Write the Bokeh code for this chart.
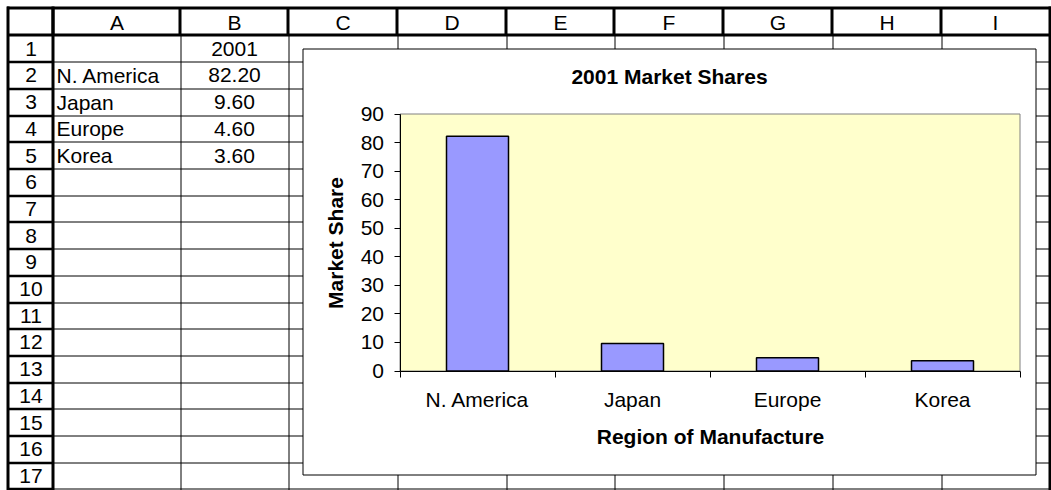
import math
from bokeh.plotting import figure
from bokeh.models import Range1d, LinearAxis, FixedTicker, ColumnDataSource
from bokeh.core.properties import value
from bokeh.embed import file_html
from bokeh.resources import INLINE

# ---------------- data ----------------
YEAR = "2001"
regions = ["N. America", "Japan", "Europe", "Korea"]
shares = [82.20, 9.60, 4.60, 3.60]
y_ticks = [0, 10, 20, 30, 40, 50, 60, 70, 80, 90]
y_max = 90
column_letters = ["A", "B", "C", "D", "E", "F", "G", "H", "I"]
row_numbers = [str(i) for i in range(1, 18)]
chart_title = f"{YEAR} Market Shares"
y_axis_title = "Market Share"
x_axis_title = "Region of Manufacture"

# ---------------- geometry (canvas pixels) ----------------
W, H = 1051, 490

col_edges = [8, 53, 180, 288, 397, 506, 614, 723, 832, 941, 1049]
GRID_TOP = 8
HEAD_BOTTOM = 35
ROW_H = 26.7
row_edges = [HEAD_BOTTOM + ROW_H * k for k in range(len(row_numbers) + 1)]

CB_L, CB_T, CB_R, CB_B = 302.5, 48.5, 1035.5, 474.5      # chart area box
PA_L, PA_R, PA_T, PA_B = 399.5, 1019.5, 113.5, 370.5      # plot area

FONT = "Liberation Sans"
CELL_FS = "21px"
CHART_FS = "21px"
TXT_OFF = 7.5   # text glyph baseline correction


def crisp(v):
    return math.floor(v) + 0.5


p = figure(width=W, height=H,
           x_range=Range1d(0, W), y_range=Range1d(H, 0),
           x_axis_type=None, y_axis_type=None,
           toolbar_location=None, output_backend="svg",
           min_border=0, outline_line_color=None,
           background_fill_color="white", border_fill_color="white")
p.title.visible = False

cat_px = (PA_R - PA_L) / len(regions)
val_px = (PA_B - PA_T) / y_max
p.extra_x_ranges = {"cat": Range1d((0 - PA_L) / cat_px, (W - PA_L) / cat_px)}
p.extra_y_ranges = {"val": Range1d((PA_B - H) / val_px, (PA_B - 0) / val_px)}

# ---------------- spreadsheet grid ----------------
x0, y0, x1, y1 = [], [], [], []
for x in col_edges[2:-1]:
    x0.append(crisp(x)); x1.append(crisp(x)); y0.append(HEAD_BOTTOM); y1.append(H)
for y in row_edges[1:]:
    x0.append(col_edges[1]); x1.append(col_edges[-1]); y0.append(crisp(y)); y1.append(crisp(y))
p.segment(x0=x0, y0=y0, x1=x1, y1=y1, line_color="black", line_width=1)

tx0, ty0, tx1, ty1 = [], [], [], []
for y in (GRID_TOP - 0.5, HEAD_BOTTOM - 0.5):
    tx0.append(col_edges[0] - 1.5); tx1.append(col_edges[-1] + 1.5); ty0.append(y); ty1.append(y)
for x in col_edges[1:-1]:
    tx0.append(x - 0.5); tx1.append(x - 0.5); ty0.append(GRID_TOP); ty1.append(HEAD_BOTTOM)
for x in (col_edges[0] - 0.5, col_edges[1] - 0.5, col_edges[-1] + 0.5):
    tx0.append(x); tx1.append(x); ty0.append(GRID_TOP - 2); ty1.append(H)
p.segment(x0=tx0, y0=ty0, x1=tx1, y1=ty1, line_color="black", line_width=3)

rx0, ry0, rx1, ry1 = [], [], [], []
for y in row_edges[1:]:
    rx0.append(col_edges[0]); rx1.append(col_edges[1]); ry0.append(crisp(y)); ry1.append(crisp(y))
p.segment(x0=rx0, y0=ry0, x1=rx1, y1=ry1, line_color="black", line_width=2.5)

# cell texts
col_centers = [(col_edges[i + 1] + col_edges[i + 2]) / 2 for i in range(len(column_letters))]
row_bases = [row_edges[i + 1] - 6 - TXT_OFF for i in range(len(row_numbers))]
center_src = ColumnDataSource(dict(
    x=col_centers + [(col_edges[0] + col_edges[1]) / 2] * len(row_numbers)
      + [(col_edges[2] + col_edges[3]) / 2] * (1 + len(shares)),
    y=[HEAD_BOTTOM - 5.5 - TXT_OFF] * len(column_letters) + row_bases
      + [row_bases[0]] + row_bases[1:1 + len(shares)],
    t=column_letters + row_numbers + [YEAR] + [f"{v:.2f}" for v in shares],
))
p.text(x="x", y="y", text="t", source=center_src, text_align="center",
       text_baseline="alphabetic", text_font=value(FONT),
       text_font_size=value(CELL_FS), text_color="black")
left_src = ColumnDataSource(dict(
    x=[col_edges[1] + 3] * len(regions),
    y=row_bases[1:1 + len(regions)],
    t=regions,
))
p.text(x="x", y="y", text="t", source=left_src, text_align="left",
       text_baseline="alphabetic", text_font=value(FONT),
       text_font_size=value(CELL_FS), text_color="black")

# ---------------- chart ----------------
p.quad(left=[CB_L], right=[CB_R], top=[CB_T], bottom=[CB_B],
       fill_color="white", line_color="black", line_width=1)
p.quad(left=[0], right=[len(regions)], bottom=[0], top=[y_max],
       x_range_name="cat", y_range_name="val",
       fill_color="#FFFFCC", line_color="#808080", line_width=1)

bar_src = ColumnDataSource(dict(x=[i + 0.5 for i in range(len(regions))], top=shares, region=regions))
p.vbar(x="x", top="top", bottom=0, width=0.4, source=bar_src,
       x_range_name="cat", y_range_name="val",
       fill_color="#9999FF", line_color="black", line_width=1.5)

p.text(x=[(CB_L + CB_R) / 2], y=[83 - TXT_OFF], text=[chart_title], text_align="center",
       text_baseline="alphabetic", text_font=value(FONT), text_font_size=value(CHART_FS),
       text_font_style="bold", text_color="black")

yax = LinearAxis(y_range_name="val", fixed_location=PA_L, bounds=(0, y_max),
                 ticker=FixedTicker(ticks=y_ticks, minor_ticks=[]))
yax.axis_label = y_axis_title
yax.axis_label_text_font = FONT
yax.axis_label_text_font_size = CHART_FS
yax.axis_label_text_font_style = "bold"
yax.axis_label_text_color = "black"
yax.axis_label_standoff = 11
yax.major_label_text_font = FONT
yax.major_label_text_font_size = CHART_FS
yax.major_label_text_color = "black"
yax.major_label_standoff = 10
yax.major_tick_out = 6
yax.major_tick_in = 0
yax.major_tick_line_color = "black"
yax.minor_tick_line_color = None
yax.axis_line_color = "black"
p.add_layout(yax, "left")

xax = LinearAxis(x_range_name="cat", fixed_location=PA_B, bounds=(0, len(regions)),
                 ticker=FixedTicker(ticks=[i + 0.5 for i in range(len(regions))],
                                    minor_ticks=list(range(len(regions) + 1))))
xax.major_label_overrides = {i + 0.5: r for i, r in enumerate(regions)}
xax.axis_label = x_axis_title
xax.axis_label_text_font = FONT
xax.axis_label_text_font_size = CHART_FS
xax.axis_label_text_font_style = "bold"
xax.axis_label_text_color = "black"
xax.axis_label_standoff = 10
xax.major_label_text_font = FONT
xax.major_label_text_font_size = CHART_FS
xax.major_label_text_color = "black"
xax.major_label_standoff = 11
xax.major_tick_out = 0
xax.major_tick_in = 0
xax.major_tick_line_color = None
xax.minor_tick_out = 6
xax.minor_tick_in = 0
xax.minor_tick_line_color = "black"
xax.axis_line_color = "black"
p.add_layout(xax, "below")

open("out.html", "w").write(file_html(p, INLINE))
